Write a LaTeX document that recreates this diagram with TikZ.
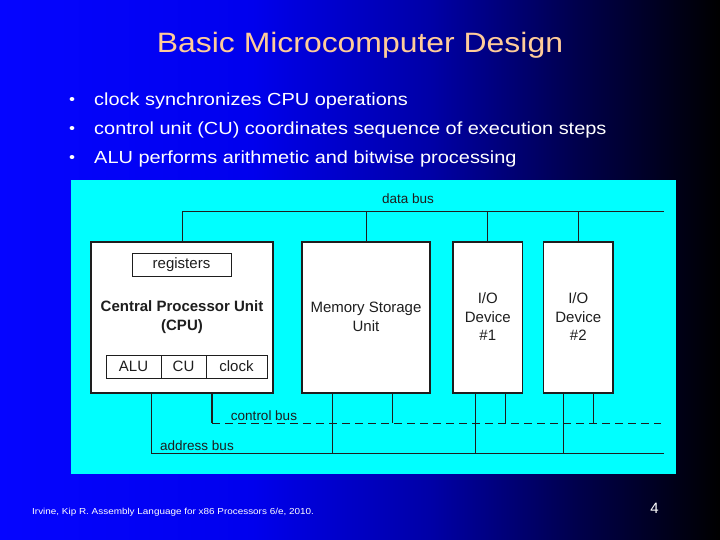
\documentclass[tikz,border=0pt]{standalone}
\usepackage{fontspec}
\setmainfont{Liberation Sans}
\newfontfamily\slidefont{Liberation Sans}[FakeStretch=1.14]
\usetikzlibrary{calc}
\definecolor{titlepeach}{RGB}{255,204,153}
\definecolor{panelcyan}{RGB}{0,255,255}
\definecolor{ink}{RGB}{30,30,30}
\pgfdeclarehorizontalshading{slidebg}{100bp}{rgb(0bp)=(0.02,0.02,1); rgb(25bp)=(0.02,0.02,1); rgb(42.5bp)=(0,0,0.93); rgb(55bp)=(0,0,0.65); rgb(65bp)=(0,0,0.3); rgb(75bp)=(0,0,0); rgb(100bp)=(0,0,0)}
\begin{document}
\begin{tikzpicture}[x=1pt,y=-1pt,
  box/.style={draw=ink, line width=1.3pt, fill=white, inner sep=0pt, font=\fontsize{15}{18.5}\selectfont, text=ink, align=center},
  cell/.style={draw=ink, line width=1pt, fill=white, inner sep=0pt, minimum height=23pt, font=\fontsize{15}{18}\selectfont, text=ink},
  bus/.style={draw=ink, line width=0.9pt},
  buslabel/.style={font=\fontsize{13.5}{16}\selectfont, text=ink, inner sep=0pt, anchor=base},
  bullettext/.style={font=\slidefont\fontsize{17.5}{20}\selectfont, text=white, anchor=base west, inner sep=0pt}]
\shade[shading=slidebg] (0,0) rectangle (720,540);
\useasboundingbox (0,0) rectangle (720,540);
% title and bullets
\node[font=\slidefont\fontsize{28}{32}\selectfont, text=titlepeach, anchor=base, inner sep=0pt] (title) at (360,53) {Basic Microcomputer Design};
\node[bullettext, font=\slidefont\fontsize{15}{20}\selectfont] (b1d) at (69,105) {•};
\node[bullettext] (b1) at (94,106) {clock synchronizes CPU operations};
\node[bullettext, font=\slidefont\fontsize{15}{20}\selectfont] (b2d) at (69,134) {•};
\node[bullettext] (b2) at (94,135) {control unit (CU) coordinates sequence of execution steps};
\node[bullettext, font=\slidefont\fontsize{15}{20}\selectfont] (b3d) at (69,163) {•};
\node[bullettext] (b3) at (94,164) {ALU performs arithmetic and bitwise processing};
% panel
\fill[panelcyan] (71,180) rectangle (676,474);
% boxes
\node[box, minimum width=182pt, minimum height=151pt] (cpu) at (182,317.5) {};
\node[cell, minimum width=99pt] (reg) at (181.5,264.5) {registers};
\node[font=\bfseries\fontsize{15}{18.5}\selectfont, text=ink, align=center, inner sep=0pt] (cputxt) at (182,317) {Central Processor Unit\\(CPU)};
\node[cell, minimum width=55pt] (alu) at (133.5,366.5) {ALU};
\node[cell, minimum width=45pt] (cu) at (183.5,366.5) {CU};
\node[cell, minimum width=61pt] (clk) at (236.5,366.5) {clock};
\node[box, minimum width=128pt, minimum height=151pt] (mem) at (366,317.5) {};
\node[font=\fontsize{15}{18.5}\selectfont, text=ink, align=center, inner sep=0pt] (memtxt) at (366,317) {Memory Storage\\Unit};
\node[box, minimum width=69.5pt, minimum height=151pt] (io1) at (487.75,317.5) {};
\node[font=\fontsize{15}{18.5}\selectfont, text=ink, align=center, inner sep=0pt] (io1txt) at (487.75,317) {I/O\\Device\\\#1};
\node[box, minimum width=69.5pt, minimum height=151pt] (io2) at (578.25,317.5) {};
\node[font=\fontsize{15}{18.5}\selectfont, text=ink, align=center, inner sep=0pt] (io2txt) at (578.25,317) {I/O\\Device\\\#2};
% data bus
\coordinate (dbL) at (182,211);
\coordinate (dbR) at (664,211);
\draw[bus] (dbL) -- (dbR);
\foreach \n in {cpu,mem,io1,io2} {\draw[bus] (\n.north) -- (\n.north |- dbL);}
\node[buslabel] (dblab) at (408,204) {data bus};
% control bus
\coordinate (cbL) at (212,423);
\coordinate (cbR) at (661,423);
\draw[bus, dash pattern=on 8pt off 5pt] (cbL) -- (cbR);
\draw[draw=ink, line width=1.8pt] (cpu.south -| cbL) -- (cbL);
\foreach \n/\cx in {mem/392,io1/505,io2/593} {
  \coordinate (tmpc) at (\cx,0);
  \draw[bus] (\n.south -| tmpc) -- (tmpc |- cbL);}
\node[buslabel] (cblab) at (264,420) {control bus};
% address bus
\coordinate (abL) at (151,453);
\coordinate (abR) at (664,453);
\draw[bus] (abL) -- (abR);
\draw[bus] (cpu.south -| abL) -- (abL);
\foreach \n/\ax in {mem/332,io1/475,io2/563} {
  \coordinate (tmpa) at (\ax,0);
  \draw[bus] (\n.south -| tmpa) -- (tmpa |- abL);}
\node[buslabel] (ablab) at (197,450) {address bus};
% footer
\node[font=\slidefont\fontsize{8.7}{10}\selectfont, text=white, anchor=base west, inner sep=0pt] (foot) at (32,514) {Irvine, Kip R. Assembly Language for x86 Processors 6/e, 2010.};
\node[font=\fontsize{15}{18}\selectfont, text=white, anchor=base, inner sep=0pt] (pnum) at (654.5,513) {4};
\end{tikzpicture}
\end{document}
